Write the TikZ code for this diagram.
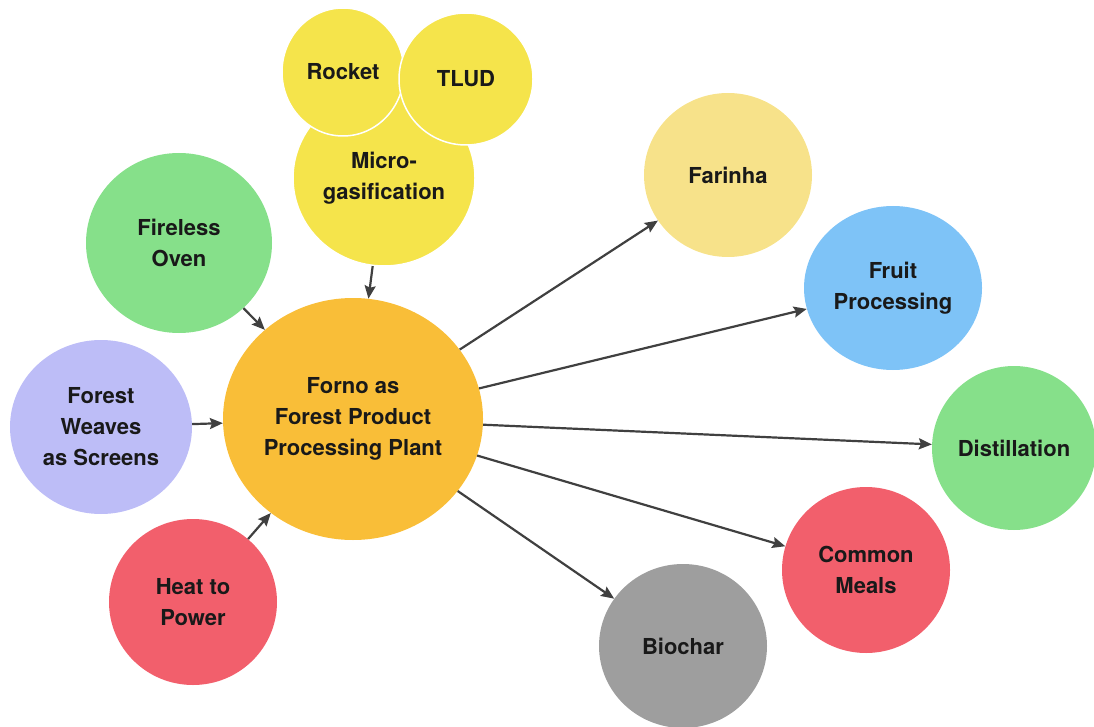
\documentclass[tikz,border=0pt]{standalone}
\usepackage{fontspec}
\setmainfont{TeX Gyre Heros}
\usetikzlibrary{arrows.meta,shapes.geometric}
\definecolor{sunyellow}{HTML}{F5E44B}
\definecolor{paleyellow}{HTML}{F7E28A}
\definecolor{leafgreen}{HTML}{86E08A}
\definecolor{lavender}{HTML}{BDBDF7}
\definecolor{coral}{HTML}{F25F6C}
\definecolor{amber}{HTML}{F9BE38}
\definecolor{skyblue}{HTML}{7EC3F7}
\definecolor{ash}{HTML}{9E9E9E}
\definecolor{arrowgray}{HTML}{404040}
\begin{document}
\begin{tikzpicture}[x=1pt, y=-1pt,
  bub/.style={ellipse, inner sep=0pt, align=center, text=black!90,
    font=\bfseries\fontsize{22}{31}\selectfont},
  arr/.style={draw=arrowgray, line width=2.2pt,
    -{Stealth[length=13pt,width=11pt,inset=2pt]}}]
\useasboundingbox (0,0) rectangle (1094,727);
% centre
\node [bub, fill=amber, minimum width=260pt, minimum height=242pt] (forno) at (353,419)
  {Forno as\\Forest Product\\Processing Plant};
% stoves on top
\node [bub, fill=sunyellow, draw=white, line width=1.5pt, minimum width=182pt, minimum height=176pt] (micro) at (384,178)
  {Micro-\\gasification};
\node [bub, fill=sunyellow, draw=white, line width=1.5pt, minimum width=122pt, minimum height=128pt] (rocket) at (343,72)
  {Rocket};
\node [bub, fill=sunyellow, draw=white, line width=1.5pt, minimum width=134pt, minimum height=132pt] (tlud) at (466,79)
  {TLUD};
% inputs
\node [bub, fill=leafgreen, minimum width=186pt, minimum height=180pt] (fireless) at (179,243)
  {Fireless\\Oven};
\node [bub, fill=lavender, minimum width=182pt, minimum height=174pt] (weaves) at (101,427)
  {Forest\\Weaves\\as Screens};
\node [bub, fill=coral, minimum width=168pt, minimum height=166pt] (heat) at (193,602)
  {Heat to\\Power};
% outputs
\node [bub, fill=paleyellow, minimum width=168pt, minimum height=164pt] (farinha) at (728,175)
  {Farinha};
\node [bub, fill=skyblue, minimum width=178pt, minimum height=164pt] (fruit) at (893,288)
  {Fruit\\Processing};
\node [bub, fill=leafgreen, minimum width=164pt, minimum height=164pt] (distill) at (1014,448)
  {Distillation};
\node [bub, fill=coral, minimum width=168pt, minimum height=166pt] (meals) at (866,570)
  {Common\\Meals};
\node [bub, fill=ash, minimum width=168pt, minimum height=164pt] (biochar) at (683,646)
  {Biochar};
% connectors
\draw [arr] (micro) -- (forno);
\draw [arr] (fireless) -- (forno);
\draw [arr] (weaves) -- (forno);
\draw [arr] (heat) -- (forno);
\foreach \out in {farinha, fruit, distill, meals, biochar}
  \draw [arr] (forno) -- (\out);
\end{tikzpicture}
\end{document}
